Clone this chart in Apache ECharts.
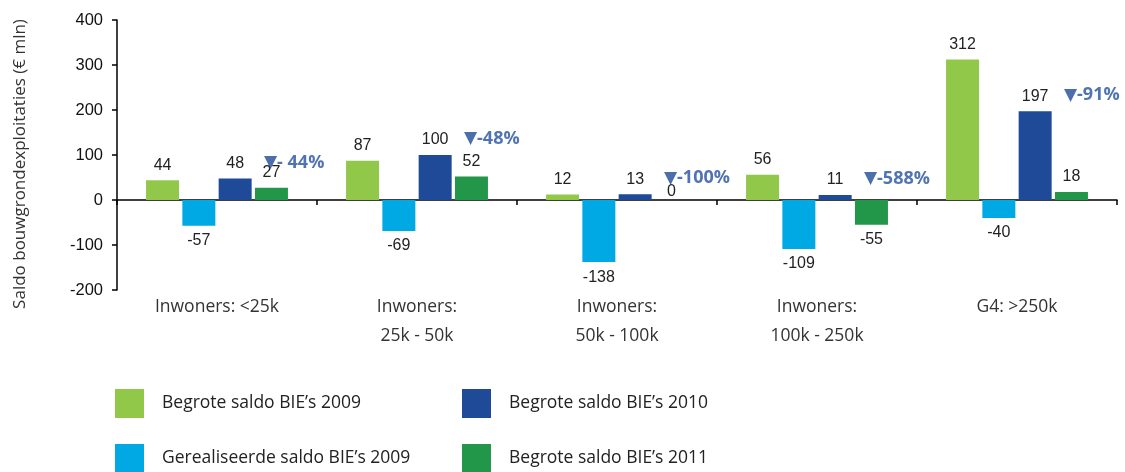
<!DOCTYPE html>
<html>
<head>
<meta charset="utf-8">
<script src="https://cdn.jsdelivr.net/npm/echarts@6/dist/echarts.min.js"></script>
<style>
  html, body { margin: 0; padding: 0; background: #fff; }
  #main { width: 1125px; height: 472px; }
</style>
</head>
<body>
<div id="main"></div>
<script>
// categories and values (€ mln)
var categories = ['Inwoners: <25k', 'Inwoners:\n25k - 50k', 'Inwoners:\n50k - 100k', 'Inwoners:\n100k - 250k', 'G4: >250k'];
var begroot2009 = [44, 87, 12, 56, 312];
var gerealiseerd2009 = [-57, -69, -138, -109, -40];
var begroot2010 = [48, 100, 13, 11, 197];
var begroot2011 = [27, 52, 0, -55, 18];
// change 2010 -> 2011, printed next to each group
var changeLabels = ['▼- 44%', '▼-48%', '▼-100%', '▼-588%', '▼-91%'];

var names = ['Begrote saldo BIE’s 2009', 'Gerealiseerde saldo BIE’s 2009', 'Begrote saldo BIE’s 2010', 'Begrote saldo BIE’s 2011'];
var colors = ['#92c84a', '#00a9e4', '#1e4a97', '#229649'];
var textFont = '"Open Sans", "Noto Sans", sans-serif';
var numFont = '"Liberation Sans", Arial, sans-serif';

// labels above positive bars, below negative ones
function barData(vals) {
    return vals.map(function (v) {
        return {
            value: v,
            label: { position: v < 0 ? 'bottom' : 'top', distance: v === 0 ? 0 : 7 }
        };
    });
}

function barSeries(i, vals) {
    return {
        name: names[i],
        type: 'bar',
        xAxisIndex: 0,
        barWidth: 33,
        barGap: '10%',
        itemStyle: { color: colors[i] },
        label: {
            show: true,
            color: '#222',
            fontFamily: numFont,
            fontSize: 16
        },
        data: barData(vals)
    };
}

function legendAt(name, left, top) {
    return {
        data: [name],
        left: left,
        top: top,
        padding: 0,
        icon: 'rect',
        itemWidth: 29,
        itemHeight: 29,
        selectedMode: false,
        textStyle: {
            fontFamily: textFont,
            fontSize: 17.5,
            color: '#222',
            padding: [0, 0, 0, 13]
        }
    };
}

var chart = echarts.init(document.getElementById('main'));
var option = {
    animation: false,
    grid: { left: 117, right: 8, top: 20, bottom: 182 },
    legend: [
        legendAt(names[0], 115, 389),
        legendAt(names[2], 462, 389),
        legendAt(names[1], 115, 444),
        legendAt(names[3], 462, 444)
    ],
    xAxis: [
        {
            type: 'category',
            data: categories,
            position: 'bottom',
            axisLine: { onZero: true, lineStyle: { color: '#000', width: 1.5 } },
            axisTick: { show: true, length: 5, lineStyle: { color: '#000', width: 1.5 } },
            axisLabel: { show: false }
        },
        {
            type: 'category',
            data: categories,
            position: 'bottom',
            axisLine: { show: false, onZero: false },
            axisTick: { show: false },
            axisLabel: {
                margin: 3,
                color: '#333',
                fontFamily: textFont,
                fontSize: 17.5,
                lineHeight: 29
            }
        }
    ],
    yAxis: {
        type: 'value',
        min: -200,
        max: 400,
        interval: 100,
        name: 'Saldo bouwgrondexploitaties (€ mln)',
        nameLocation: 'middle',
        nameGap: 88,
        nameTextStyle: {
            fontFamily: textFont,
            fontSize: 17,
            color: '#333',
            padding: [0, 18, 0, 0]
        },
        axisLine: { show: true, lineStyle: { color: '#000', width: 1.5 } },
        axisTick: { show: true, length: 5, lineStyle: { color: '#000', width: 1.5 } },
        splitLine: { show: false },
        axisLabel: {
            margin: 14,
            color: '#111',
            fontFamily: numFont,
            fontSize: 16.5
        }
    },
    series: [
        barSeries(0, begroot2009),
        barSeries(1, gerealiseerd2009),
        barSeries(2, begroot2010),
        barSeries(3, begroot2011),
        {
            // change notes, anchored at the 2010 value of each group
            type: 'scatter',
            xAxisIndex: 0,
            symbolSize: 0,
            silent: true,
            data: begroot2010,
            label: {
                show: true,
                position: 'top',
                distance: 7,
                align: 'left',
                offset: [47, 0],
                color: '#24509f',
                fontFamily: textFont,
                fontWeight: 'bold',
                fontSize: 18,
                formatter: function (p) {
                    var s = changeLabels[p.dataIndex];
                    return '{t|' + s.charAt(0) + '}' + s.slice(1);
                },
                rich: {
                    t: { fontFamily: '"DejaVu Sans", sans-serif', fontSize: 17, color: '#1e4a97' }
                }
            }
        }
    ]
};
chart.setOption(option);
</script>
</body>
</html>
